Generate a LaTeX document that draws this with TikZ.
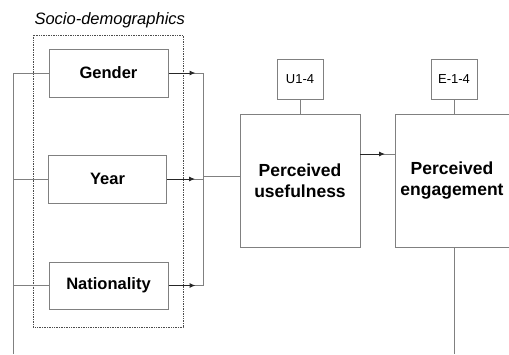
\documentclass[tikz,border=0pt]{standalone}
\usepackage{fontspec}
\setmainfont{Liberation Sans}
\usetikzlibrary{arrows.meta}
\definecolor{linegray}{HTML}{808080}
\tikzset{
  varbox/.style={draw=linegray, line width=1pt, rectangle, inner sep=0pt, font=\bfseries\fontsize{16.5}{19}\selectfont},
  bigbox/.style={varbox, align=center, font=\bfseries\fontsize{17.5}{21}\selectfont},
  itembox/.style={draw=linegray, line width=1pt, rectangle, inner sep=0pt, minimum width=46pt, minimum height=40pt, font=\fontsize{13}{15}\selectfont},
  link/.style={draw=linegray, line width=1pt},
  tip/.style={link, -{Latex[length=6pt,width=5pt]}, color=black!85}
}
\begin{document}
\begin{tikzpicture}[x=1pt,y=-1pt]
  \useasboundingbox (0,0) rectangle (509,354);
  % socio-demographic group
  \draw[draw=black!70, densely dotted, line width=0.7pt] (33,35) rectangle (183,327);
  \node[anchor=west, font=\itshape\fontsize{16.5}{19}\selectfont] (grp) at (31,20) {Socio-demographics};
  \node[varbox, minimum width=119pt, minimum height=48pt] (gender) at (108.5,73) {Gender};
  \node[varbox, minimum width=118pt, minimum height=48pt] (year) at (107.5,179) {Year};
  \node[varbox, minimum width=119pt, minimum height=47pt] (nation) at (108.5,285.5) {Nationality};
  % constructs
  \node[bigbox, minimum width=120pt, minimum height=133pt] (useful) at (300,181) {Perceived\\usefulness};
  \node[bigbox, minimum width=114pt, minimum height=133pt] (engage) at (452,181) {Perceived\\engagement};
  \node[itembox] (uitems) at (300,79) {U1-4};
  \node[itembox] (eitems) at (454,79) {E-1-4};
  % buses
  \coordinate (lbus) at (13,73);
  \coordinate (lend) at (13,354);
  \coordinate (rbus) at (203,73);
  \coordinate (rend) at (203,286);
  \coordinate (ujoin) at (203,176);
  \coordinate (uout) at (360,154);
  \coordinate (bottom) at (454,354);
  \draw[link] (lbus) -- (lend);
  \draw[link] (rbus) -- (rend);
  \draw[link] (lbus) -- (gender.west);
  \draw[link] (lbus |- year) -- (year.west);
  \draw[link] (lbus |- nation) -- (nation.west);
  \draw[link] (gender.east) -- (rbus);
  \draw[link] (year.east) -- (rbus |- year);
  \draw[link] (nation.east) -- (rbus |- nation);
  \draw[tip] (gender.east) -- ++(27,0);
  \draw[tip] (year.east) -- ++(28,0);
  \draw[tip] (nation.east) -- ++(27,0);
  \draw[link] (ujoin) -- (ujoin -| useful.west);
  \draw[link] (uout) -- (uout -| engage.west);
  \draw[tip] (uout) -- ++(25,0);
  \draw[link] (uitems) -- (useful.north);
  \draw[link] (eitems) -- (eitems |- engage.north);
  \draw[link] (eitems |- engage.south) -- (bottom);
\end{tikzpicture}
\end{document}
